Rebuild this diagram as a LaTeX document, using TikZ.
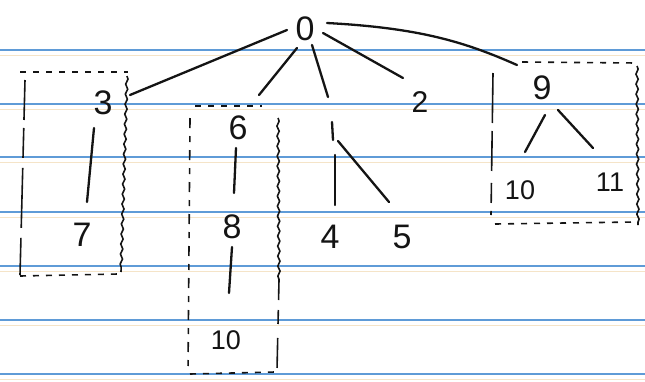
\documentclass[tikz,border=0pt]{standalone}
\usepackage{fontspec}
\setmainfont{Liberation Sans}
\usetikzlibrary{decorations.pathmorphing,calc}
\definecolor{ruleblue}{RGB}{95,155,215}
\definecolor{rulefaint}{RGB}{245,228,200}
\definecolor{ink}{RGB}{20,20,20}
\tikzset{
  digit/.style={text=ink,inner sep=0pt,font=\fontsize{34}{34}\selectfont},
  middigit/.style={text=ink,inner sep=0pt,font=\fontsize{30}{30}\selectfont},
  smalldigit/.style={text=ink,inner sep=0pt,font=\fontsize{27}{27}\selectfont},
  edge/.style={draw=ink,line width=2.3pt,line cap=round},
  boxdash/.style={draw=ink,line width=1.6pt,dash pattern=on 6pt off 7pt},
  boxwavy/.style={draw=ink,line width=1.6pt,decorate,decoration={snake,amplitude=1.1pt,segment length=10pt}},
  rule/.style={draw=ruleblue,line width=1.4pt},
  faint/.style={draw=rulefaint,line width=0.8pt}
}
\begin{document}
\begin{tikzpicture}[x=1pt,y=-1pt]
\useasboundingbox (0,0) rectangle (645,381);
\fill[white] (0,0) rectangle (645,381);
% ruled paper
\foreach \yy in {50,104,157,212,266,320,374}{
  \draw[rule] (0,\yy) -- (645,\yy);
  \draw[faint] (0,\yy+5) -- (645,\yy+5);
}
% nodes
\node[digit] (n0) at (305,29) {0};
\node[digit] (n3) at (103,103) {3};
\node[digit] (n7) at (82,235) {7};
\node[digit] (n6) at (238,128) {6};
\node[digit] (n8) at (232,227) {8};
\node[smalldigit] (n10a) at (226,340) {10};
\node[middigit] (n2) at (420,102) {2};
\node[digit] (n4) at (330,237) {4};
\node[digit] (n5) at (402,237) {5};
\node[digit] (n9) at (542,88) {9};
\node[smalldigit] (n10b) at (520,190) {10};
\node[smalldigit] (n11) at (610,182) {11};
\coordinate (j1) at (328,97);
\coordinate (j2) at (332,122);
\coordinate (j3) at (333,140);
\coordinate (j4) at (338,141);
% connectors
\draw[edge] ($(n0)+(-18,1)$) -- ($(n3)+(27,-8)$);
\draw[edge] ($(n0)+(-8,19)$) -- ($(n6)+(21,-33)$);
\draw[edge] ($(n0)+(7,16)$) -- (j1);
\draw[edge] (j2) -- (j3);
\draw[edge] ($(n4)+(5,-82)$) -- ($(n4)+(5,-32)$);
\draw[edge] (j4) -- ($(n5)+(-13,-35)$);
\draw[edge] ($(n0)+(18,4)$) -- ($(n2)+(-17,-24)$);
\draw[edge] ($(n0)+(22,-6)$) .. controls (420,28) and (465,42) .. ($(n9)+(-25,-23)$);
\draw[edge] ($(n3)+(-9,25)$) -- ($(n7)+(5,-33)$);
\draw[edge] ($(n6)+(-2,20)$) -- ($(n8)+(2,-34)$);
\draw[edge] ($(n8)+(0,20)$) -- ($(n10a)+(3,-47)$);
\draw[edge] ($(n9)+(3,27)$) -- ($(n10b)+(5,-38)$);
\draw[edge] ($(n9)+(16,22)$) -- ($(n11)+(-17,-34)$);
% left box
\draw[boxdash] (20,72) -- (128,72);
\draw[boxwavy] (127,76) -- (121,272);
\draw[ink,line width=1.6pt,dash pattern=on 40pt off 8pt on 30pt off 10pt on 60pt off 10pt] (25,80) -- (20,275);
\draw[boxdash] (20,276) -- (118,274);
% middle box
\draw[boxdash] (195,106) -- (262,106);
\draw[ink,line width=1.6pt,dash pattern=on 10pt off 8pt on 6pt off 8pt] (190,118) -- (188,372);
\draw[boxwavy] (278,118) -- (279,280);
\draw[ink,line width=1.6pt,dash pattern=on 20pt off 10pt on 14pt off 14pt on 30pt off 5pt] (279,280) -- (277,370);
\draw[boxdash] (190,374) -- (275,372);
% right box
\draw[boxdash] (522,62) -- (637,63);
\draw[ink,line width=1.6pt,dash pattern=on 50pt off 8pt on 40pt off 12pt on 20pt off 8pt] (493,73) -- (491,215);
\draw[boxwavy] (637,66) -- (638,225);
\draw[boxdash] (495,224) -- (634,222);
\end{tikzpicture}
\end{document}
